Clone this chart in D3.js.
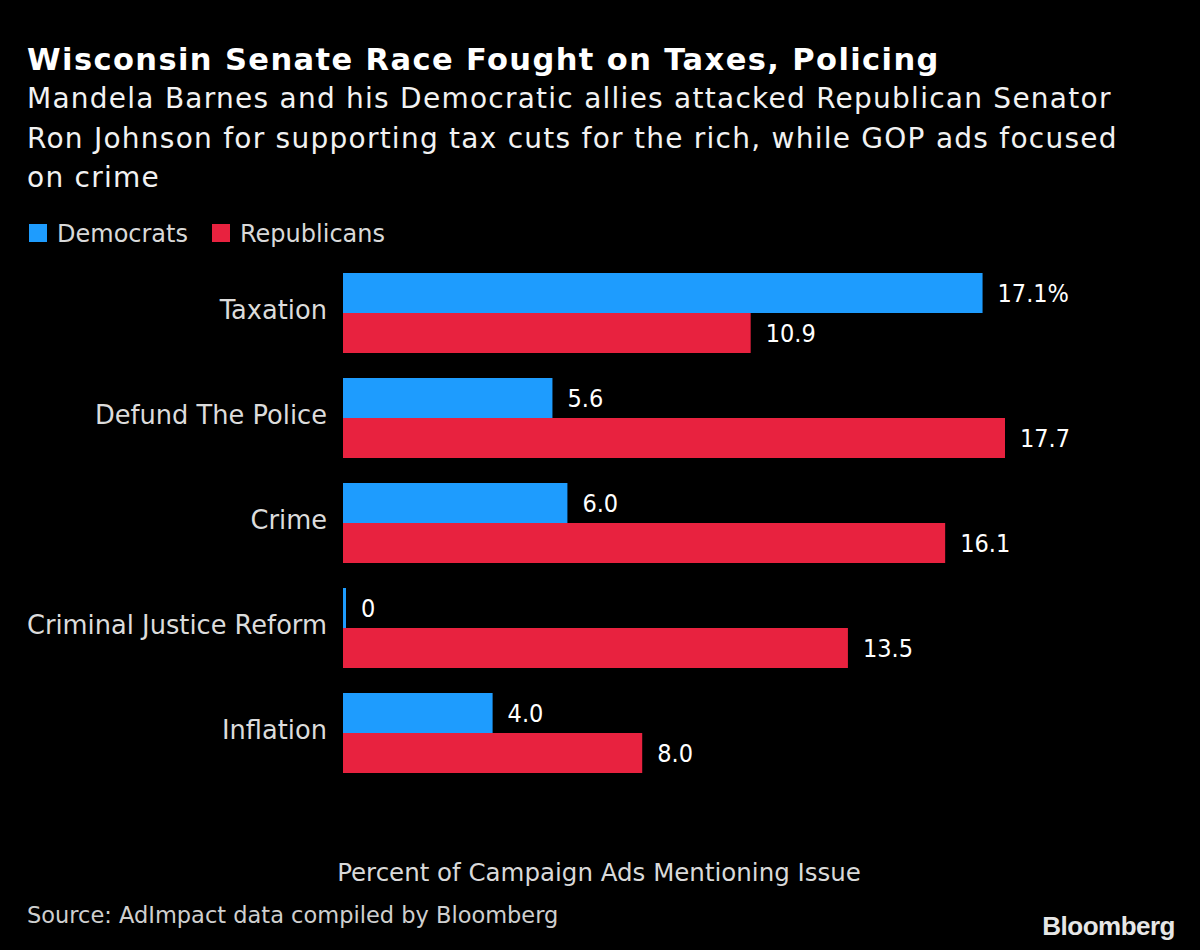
<!DOCTYPE html>
<html><head><meta charset="utf-8">
<script src="https://cdn.jsdelivr.net/npm/d3@7"></script>
<style>html,body{margin:0;padding:0;background:#000;}svg{display:block;}</style>
</head><body>
<script>
const categories = ["Taxation","Defund The Police","Crime","Criminal Justice Reform","Inflation"];
const seriesNames = ["Democrats","Republicans"];
const democrats = [17.1, 5.6, 6.0, 0, 4.0];
const republicans = [10.9, 17.7, 16.1, 13.5, 8.0];
const valueLabelsDem = ["17.1%","5.6","6.0","0","4.0"];
const valueLabelsRep = ["10.9","17.7","16.1","13.5","8.0"];
const colors = ["#1e9cfe","#e8223f"];

const W = 1200, H = 950;
const FONT = "'DejaVu Sans', sans-serif";
const NUMFONT = "'DejaVu Sans Condensed', 'DejaVu Sans', sans-serif";
const svg = d3.select("body").append("svg").attr("width", W).attr("height", H).style("background","#000");

// Title & subtitle
svg.append("text").attr("x", 27).attr("y", 70).attr("fill","#fff")
  .attr("font-family", FONT).attr("font-weight","bold").attr("font-size", 30.5)
  .attr("letter-spacing", 1.4)
  .text("Wisconsin Senate Race Fought on Taxes, Policing");
const sub = ["Mandela Barnes and his Democratic allies attacked Republican Senator",
             "Ron Johnson for supporting tax cuts for the rich, while GOP ads focused",
             "on crime"];
sub.forEach((s,i)=>{
  svg.append("text").attr("x", 27).attr("y", 108 + i*39.5).attr("fill","#f2f2f2")
    .attr("font-family", FONT).attr("font-size", 28).attr("letter-spacing", 1.25).text(s);
});

// Legend
const leg = svg.append("g");
let lx = 29;
seriesNames.forEach((n,i)=>{
  leg.append("rect").attr("x", lx).attr("y", 224).attr("width",18).attr("height",18).attr("fill",colors[i]);
  const t = leg.append("text").attr("x", lx+28).attr("y", 242).attr("fill","#d9d9d9")
    .attr("font-family", FONT).attr("font-size", 24).text(n);
  lx = lx + 28 + t.node().getComputedTextLength() + 24;
});

// Scales
const x = d3.scaleLinear().domain([0, 17.7]).range([343, 1005]);
const y = d3.scaleBand().domain(categories).range([273, 273 + 105*5 - 25]).paddingInner(25/105).paddingOuter(0);
const sub_y = d3.scaleBand().domain(seriesNames).range([0, y.bandwidth()]);

const data = categories.map((c,i)=>({cat:c, vals:[
  {s:seriesNames[0], v:democrats[i], label:valueLabelsDem[i]},
  {s:seriesNames[1], v:republicans[i], label:valueLabelsRep[i]}]}));

const g = svg.append("g");
const groups = g.selectAll("g.grp").data(data).join("g").attr("class","grp")
  .attr("transform", d=>`translate(0,${y(d.cat)})`);

groups.selectAll("rect").data(d=>d.vals).join("rect")
  .attr("x", x(0))
  .attr("y", d=>sub_y(d.s))
  .attr("width", d=>Math.max(3, x(d.v)-x(0)))
  .attr("height", sub_y.bandwidth())
  .attr("fill", (d,i)=>colors[i]);

groups.selectAll("text.val").data(d=>d.vals).join("text").attr("class","val")
  .attr("x", d=>Math.max(x(0)+3, x(d.v)) + 15)
  .attr("y", d=>sub_y(d.s) + sub_y.bandwidth()/2 + 9)
  .attr("fill","#fff").attr("font-family", NUMFONT).attr("font-size", 25)
  .text(d=>d.label);

// Category axis
const yAxis = d3.axisLeft(y).tickSize(0).tickPadding(0);
const ax = svg.append("g").attr("transform","translate(327,0)").call(yAxis);
ax.select(".domain").remove();
ax.selectAll("text").attr("fill","#dcdcdc").attr("font-family", FONT).attr("font-size", 25.7)
  .attr("dy", "0.25em");

// Axis title
svg.append("text").attr("x", 599).attr("y", 881).attr("text-anchor","middle")
  .attr("fill","#d9d9d9").attr("font-family", FONT).attr("font-size", 24.5)
  .text("Percent of Campaign Ads Mentioning Issue");

// Source
svg.append("text").attr("x", 27).attr("y", 923).attr("fill","#cfcfcf")
  .attr("font-family", FONT).attr("font-size", 22.5)
  .text("Source: AdImpact data compiled by Bloomberg");

// Logo
svg.append("text").attr("x", 1175).attr("y", 935).attr("text-anchor","end")
  .attr("fill","#e6e6e6").attr("font-family", "'Liberation Sans Narrow', 'Liberation Sans', sans-serif")
  .attr("font-weight","bold").attr("font-size", 26).attr("letter-spacing", -0.5)
  .text("Bloomberg");
</script>
</body></html>
